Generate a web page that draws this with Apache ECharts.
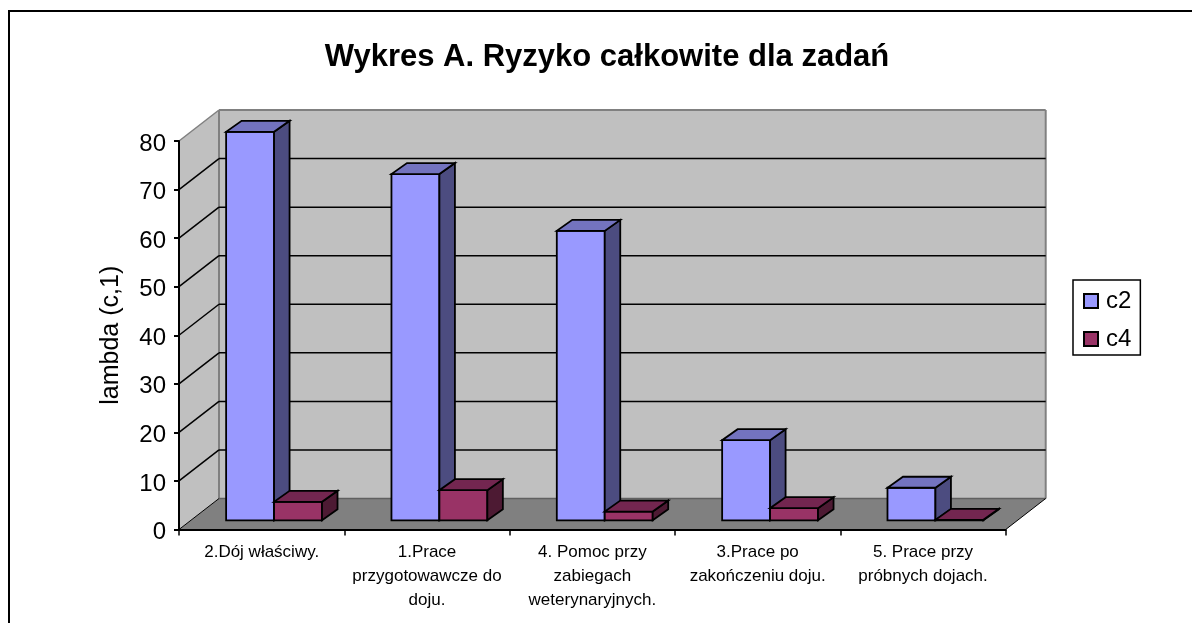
<!DOCTYPE html>
<html><head><meta charset="utf-8">
<style>html,body{margin:0;padding:0;background:#fff}#c{width:1192px;height:623px}</style>
<script src="https://cdn.jsdelivr.net/npm/echarts@6/dist/echarts.min.js"></script>
</head><body><div id="c"></div>
<script>
const categories = ['2.Dój właściwy.','1.Prace\nprzygotowawcze do\ndoju.','4. Pomoc przy\nzabiegach\nweterynaryjnych.','3.Prace po\nzakończeniu doju.','5. Prace przy\npróbnych dojach.'];
const c2 = [80, 71.3, 59.6, 16.5, 6.7];
const c4 = [3.8, 6.2, 1.8, 2.5, 0.1];
const wallTicks = [10,20,30,40,50,60,70];
const FONT = '"Liberation Sans", Arial, sans-serif';
const DX = 40, DY = 31;          // full floor depth
const BDX = 12.4, BDY = 9.2;     // bar front plane inset
const CDX = 15.5, CDY = 11;      // bar depth
const chart = echarts.init(document.getElementById('c'), null, {renderer:'canvas'});

function poly(points, fill, stroke, lw) {
  return {type:'polygon', shape:{points}, style:{fill, stroke: stroke||null, lineWidth: lw||0, lineJoin:'miter'}};
}
function line(p, q, stroke, lw) {
  return {type:'line', shape:{x1:p[0],y1:p[1],x2:q[0],y2:q[1]}, style:{stroke, lineWidth:lw}};
}
function wallItem(params, api) {
  const r = params.coordSys, x0 = r.x, x1 = r.x + r.width, t = r.y, b = r.y + r.height;
  return {type:'group', children:[
    poly([[x0,b],[x0,t],[x0+DX,t-DY],[x0+DX,b-DY]], '#c0c0c0'),
    poly([[x0+DX,t-DY],[x1+DX,t-DY],[x1+DX,b-DY],[x0+DX,b-DY]], '#c0c0c0'),
    poly([[x0,b],[x0+DX,b-DY],[x1+DX,b-DY],[x1,b]], '#808080'),
    line([x0,t],[x0+DX,t-DY],'#808080',1.5),
    line([x0+DX,t-DY],[x1+DX,t-DY],'#808080',2),
    line([x1+DX,t-DY],[x1+DX,b-DY],'#808080',2),
    line([x0+DX,t-DY],[x0+DX,b-DY],'#808080',2),
    line([x0+DX,b-DY],[x1+DX,b-DY],'#606060',1.5),
    line([x0,b],[x0+DX,b-DY],'#000',1),
    line([x1,b],[x1+DX,b-DY],'#000',1)
  ]};
}
function gridItem(params, api) {
  const r = params.coordSys, x0 = r.x, x1 = r.x + r.width;
  const y = api.coord([0, api.value(1)])[1];
  return {type:'group', children:[
    line([x0,y],[x0+DX,y-DY],'#000',1.5),
    line([x0+DX,y-DY],[x1+DX,y-DY],'#000',1.5)
  ]};
}
function barItem(front, top, side, slot) {
  return function(params, api) {
    const cat = api.value(0), val = api.value(1);
    const w = api.size([1,0])[0] * 0.29;
    const cx = api.coord([cat,0])[0];
    const yb = api.coord([cat,0])[1] - BDY;
    const yt = api.coord([cat,val])[1] - BDY;
    const xl = cx + BDX + (slot === 0 ? -w : 0), xr = xl + w;
    return {type:'group', children:[
      poly([[xl,yb],[xl,yt],[xr,yt],[xr,yb]], front, '#000', 1.8),
      poly([[xr,yb],[xr,yt],[xr+CDX,yt-CDY],[xr+CDX,yb-CDY]], side, '#000', 1.8),
      poly([[xl,yt],[xr,yt],[xr+CDX,yt-CDY],[xl+CDX,yt-CDY]], top, '#000', 1.8)
    ]};
  };
}
chart.setOption({
  animation:false,
  backgroundColor:'#fff',
  title:{text:'Wykres A. Ryzyko całkowite dla zadań', left:602, textAlign:'center', top:37,
    textStyle:{fontFamily:FONT,fontSize:31,fontWeight:'bold',color:'#000'}},
  graphic:[{type:'rect', silent:true, z:-1, shape:{x:9,y:11,width:1260,height:700},
    style:{fill:'none',stroke:'#000',lineWidth:2}}],
  legend:{data:['c2','c4'], left:1073, top:280, orient:'vertical', itemWidth:14, itemHeight:14, itemGap:14,
    padding:[9,9,4,10], borderColor:'#000', borderWidth:1.5, backgroundColor:'#fff', borderRadius:0,
    icon:'rect', textStyle:{fontFamily:FONT,fontSize:24,color:'#000',padding:[0,0,0,3]}},
  grid:{left:179, right:186.3, top:141, bottom:93.5, containLabel:false},
  xAxis:{type:'category', data:categories, z:10, boundaryGap:true,
    axisLine:{show:true,onZero:false,lineStyle:{color:'#000',width:2}},
    axisTick:{show:true,alignWithLabel:false,length:6,lineStyle:{color:'#000',width:1.5}},
    axisLabel:{interval:0,margin:11,fontFamily:FONT,fontSize:17,lineHeight:24,color:'#000',align:'center',verticalAlign:'top'}},
  yAxis:{type:'value', min:0, max:80, interval:10, z:10,
    name:'lambda (c,1)', nameLocation:'middle', nameGap:55, nameRotate:90,
    nameTextStyle:{fontFamily:FONT,fontSize:25,color:'#000'},
    splitLine:{show:false},
    axisLine:{show:true,lineStyle:{color:'#000',width:2}},
    axisTick:{show:true,length:5,lineStyle:{color:'#000',width:2}},
    axisLabel:{margin:13,fontFamily:FONT,fontSize:24,color:'#000',verticalAlign:'top',lineHeight:6}},
  series:[
    {type:'custom',name:'walls',silent:true,clip:false,z:1,renderItem:wallItem,data:[[0,0]],encode:{x:0,y:1}},
    {type:'custom',name:'wallGrid',silent:true,clip:false,z:2,renderItem:gridItem,data:wallTicks.map(v=>[0,v]),encode:{x:0,y:1}},
    {type:'custom',name:'c2',clip:false,z:3,itemStyle:{color:'#9999ff',borderColor:'#000',borderWidth:1.5},
      renderItem:barItem('#9999ff','#7373bf','#4c4c80',0),data:c2.map((v,i)=>[i,v]),encode:{x:0,y:1}},
    {type:'custom',name:'c4',clip:false,z:4,itemStyle:{color:'#993366',borderColor:'#000',borderWidth:1.5},
      renderItem:barItem('#993366','#732650','#4d1a33',1),data:c4.map((v,i)=>[i,v]),encode:{x:0,y:1}}
  ]
});
</script></body></html>
